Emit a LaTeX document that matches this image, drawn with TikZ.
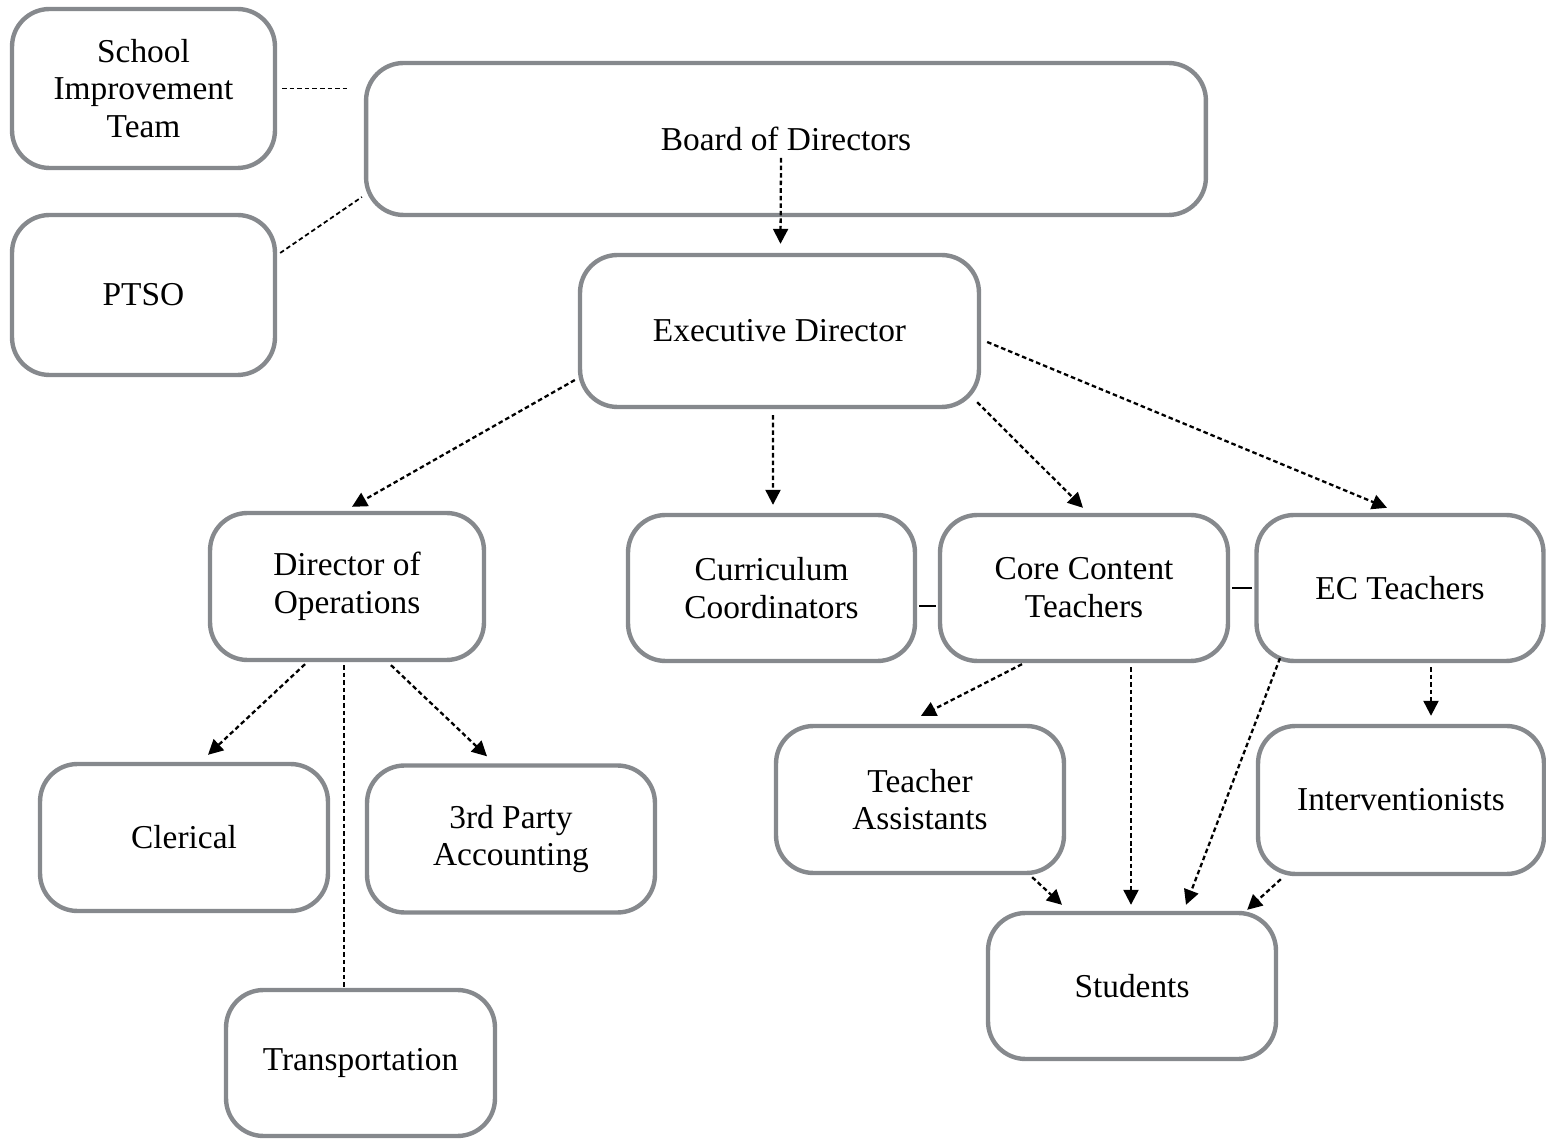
\documentclass[tikz,border=0pt]{standalone}
\usepackage{fontspec}
\setmainfont{Liberation Serif}
\usetikzlibrary{arrows.meta,calc}
\definecolor{boxgray}{RGB}{134,137,141}

\begin{document}
\begin{tikzpicture}[x=0.02cm, y=-0.02cm, every node/.style={font=\fontsize{19}{21.5}\selectfont}, >={Triangle[length=8.5pt,width=8.5pt]}, box/.style={draw=boxgray, line width=2.5pt, rounded corners=0.75cm, align=center, fill=white, minimum width=5.76cm, minimum height=2.94cm}, link/.style={line width=1.3pt, dash pattern=on 2.6pt off 1.7pt}, tie/.style={line width=0.6pt}]
	\useasboundingbox (0,0) rectangle (1546,1141);
	\node[box, minimum width=5.26cm, minimum height=3.18cm] (sit) at (143.5,88.5) {School\\Improvement\\Team};
	\node[box, minimum width=5.26cm, minimum height=3.2cm] (ptso) at (143.5,295) {PTSO};
	\node[box, minimum width=16.8cm, minimum height=3.04cm] (board) at (786,139) {Board of Directors};
	\node[box, minimum width=7.98cm, minimum height=3.04cm] (exec) at (779.5,331) {Executive Director};
	\node[box, minimum width=5.48cm] (ops) at (347,586.5) {Director of\\Operations};
	\node[box, minimum width=5.74cm, minimum height=2.92cm] (curr) at (771.5,588) {Curriculum\\Coordinators};
	\node[box, minimum height=2.92cm] (core) at (1084,588) {Core Content\\Teachers};
	\node[box, minimum width=5.74cm, minimum height=2.92cm] (ec) at (1400,588) {EC Teachers};
	\node[box] (cler) at (184,837.5) {Clerical};
	\node[box] (acct) at (511,839) {3rd Party\\Accounting};
	\node[box, minimum width=5.38cm, minimum height=2.92cm] (trans) at (360.5,1063) {Transportation};
	\node[box] (ta) at (920,799.5) {Teacher\\Assistants};
	\node[box, minimum width=5.72cm, minimum height=2.96cm] (interv) at (1401,800) {Interventionists};
	\node[box, minimum height=2.92cm] (stud) at (1132,986) {Students};
	% advisory groups
	\draw[link, line width=1pt, shorten <=0.1cm, shorten >=0.34cm] (sit.east) -- (sit.east -| board.west);
	\draw[link, line width=1pt] ($(ptso.east)+(3,-42)$) -- ($(board.west)+(-2,58)$);
	% reporting lines
	\draw[link, ->] ($(board.center)+(-5,19)$) -- ($(exec.north)+(1,-9)$);
	\draw[link, ->] ($(exec.west)+(-3,49)$) -- ($(ops.north)+(5,-4)$);
	\draw[link, ->] ($(exec.south)+(-6.5,6)$) -- ($(curr.north)+(1.5,-8)$);
	\draw[link, ->] ($(exec.south east)+(-4,-7)$) -- ($(core.north)+(-1,-5)$);
	\draw[link, ->] ($(exec.east)+(6,11)$) -- ($(ec.north)+(-13,-5)$);
	\draw[tie] ($(curr.east)+(2,18)$) -- ($(core.west)+(-2,18)$);
	\draw[tie] ($(core.east)+(2,0)$) -- ($(ec.west)+(-2,0)$);
	\draw[link, ->] ($(ops.south)+(-42,2)$) -- ($(cler.north)+(24,-7)$);
	\draw[link] ($(ops.south)+(-3,3)$) coordinate (o1) -- (o1 |- trans.north);
	\draw[link, ->] ($(ops.south)+(44,3)$) -- ($(acct.north)+(-24,-7)$);
	\draw[link, ->] ($(core.south)+(-62,1)$) -- ($(ta.north)+(1,-8)$);
	\draw[link, ->] ($(core.south)+(47,4)$) -- ($(stud.north)+(-1,-6)$);
	\draw[link, ->] ($(ec.south)+(-120,-5)$) -- ($(stud.north)+(54,-6)$);
	\draw[link, ->] ($(ec.south)+(31,4)$) -- ($(interv.north)+(30,-8)$);
	\draw[link, ->] ($(ta.south east)+(-34,2)$) -- ($(stud.north)+(-70,-6)$);
	\draw[link, ->] ($(interv.south west)+(25,3)$) -- ($(stud.north east)+(-31,-1)$);
\end{tikzpicture}
\end{document}
